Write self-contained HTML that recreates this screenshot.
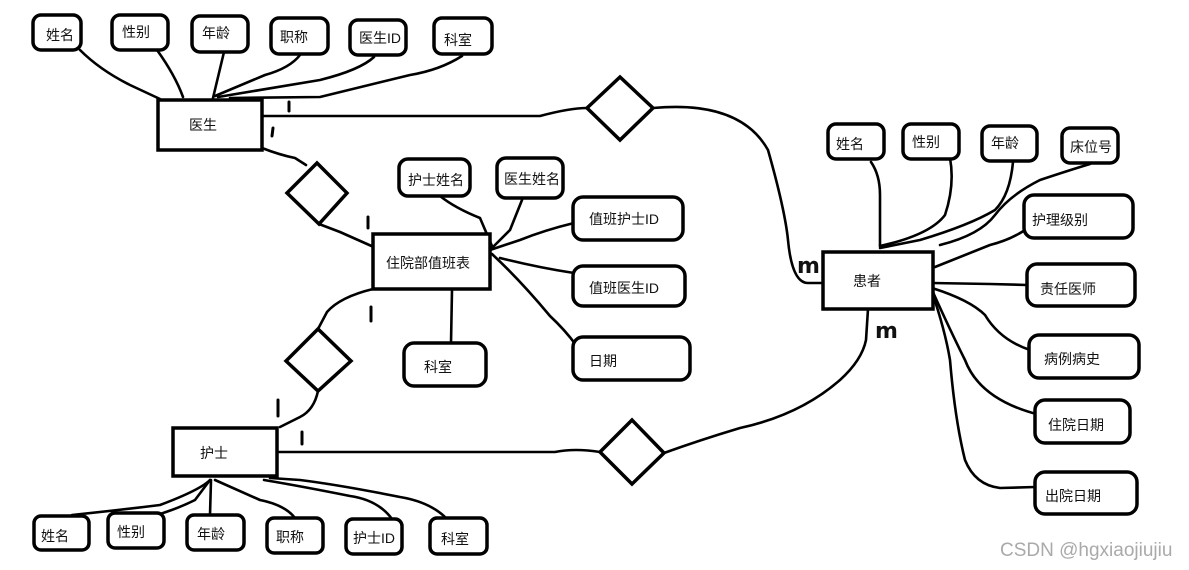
<!DOCTYPE html>
<html><head><meta charset="utf-8"><style>
html,body{margin:0;padding:0;background:#fff;width:1189px;height:570px;overflow:hidden}
svg{display:block}
text{font-family:"Liberation Sans","Noto Sans CJK SC",sans-serif;font-size:14px;fill:#111}
.r{fill:#fff;stroke:#000;stroke-width:3.5}
.b{fill:#fff;stroke:#000;stroke-width:3.5}
.l{fill:none;stroke:#000;stroke-width:2.6;stroke-linecap:round;stroke-linejoin:round}
.m{fill:none;stroke:#000;stroke-width:3;stroke-linecap:round}
</style></head><body>
<svg width="1189" height="570" viewBox="0 0 1189 570" xmlns="http://www.w3.org/2000/svg">
<path class="l" d="M80,50 Q100,70 130,85 L160,99"/>
<path class="l" d="M157,50 Q175,75 183,97"/>
<path class="l" d="M224,52 L213,98"/>
<path class="l" d="M300,55 Q290,68 265,75 L215,96"/>
<path class="l" d="M374,57 Q360,70 320,80 L218,97"/>
<path class="l" d="M462,56 Q440,70 410,75 Q340,92 320,97 L230,98"/>
<path class="l" d="M262,116 L540,116 Q570,108 587,108"/>
<path class="l" d="M653,108 Q740,100 768,150 Q785,210 788,240 Q792,283 808,283 L830,283"/>
<path class="l" d="M262,148 Q280,155 295,158 L306,165"/>
<path class="l" d="M319,224 L340,232 L376,248"/>
<path class="l" d="M440,196 Q455,208 480,218 L492,246"/>
<path class="l" d="M522,200 L510,230 L490,250"/>
<path class="l" d="M574,223 Q545,230 520,240 L490,250"/>
<path class="l" d="M574,273 Q540,268 500,258"/>
<path class="l" d="M576,345 Q565,330 550,316 Q520,280 492,254"/>
<path class="l" d="M452,290 L451,343"/>
<path class="l" d="M373,289 Q340,297 327,312 L318,329"/>
<path class="l" d="M318,391 Q314,410 300,417 L280,427"/>
<path class="l" d="M277,452 L555,452 Q575,448 600,452"/>
<path class="l" d="M664,453 Q700,440 740,428 Q800,415 840,380 Q862,360 866,340 L868,309"/>
<path class="l" d="M72,515 Q120,510 160,505 Q200,490 210,480"/>
<path class="l" d="M150,517 Q175,510 195,500 L210,480"/>
<path class="l" d="M211,480 L210,515"/>
<path class="l" d="M295,518 Q285,505 260,500 L215,480"/>
<path class="l" d="M392,519 Q378,500 350,496 Q300,486 264,480"/>
<path class="l" d="M446,518 Q430,502 400,497 Q340,485 300,480 L270,478"/>
<path class="l" d="M871,162 Q880,175 880,195 L880,246"/>
<path class="l" d="M950,158 Q955,185 945,215 Q930,235 880,246"/>
<path class="l" d="M1013,162 Q1010,195 995,210 Q970,225 920,240 L880,248"/>
<path class="l" d="M1090,164 Q1070,170 1040,180 Q1010,195 995,215 Q980,235 940,245"/>
<path class="l" d="M1025,230 Q1010,240 990,245 L935,267"/>
<path class="l" d="M932,283 L990,284 L1027,285"/>
<path class="l" d="M932,288 Q970,300 985,315 Q1000,340 1030,350"/>
<path class="l" d="M932,290 Q950,330 965,360 Q980,400 1040,415"/>
<path class="l" d="M932,292 Q945,330 950,360 Q955,420 965,460 Q975,485 1000,488 L1035,487"/>
<rect class="b" x="158" y="100" width="104" height="50"/>
<text x="189" y="130">医生</text>
<rect class="b" x="373" y="234" width="117" height="55"/>
<text x="386" y="268">住院部值班表</text>
<rect class="b" x="173" y="428" width="104" height="48"/>
<text x="200" y="458">护士</text>
<rect class="b" x="823" y="252" width="110" height="57"/>
<text x="853" y="286">患者</text>
<polygon class="b" points="587,108 620,77 653,108 620,140"/>
<polygon class="b" points="287,193 317,163 347,193 319,224"/>
<polygon class="b" points="286,361 318,329 351,361 318,391"/>
<polygon class="b" points="600,452 632,420 664,453 632,484"/>
<rect class="r" x="33" y="15" width="48" height="35" rx="8"/><text x="46" y="40">姓名</text>
<rect class="r" x="112" y="15" width="56" height="35" rx="8"/><text x="122" y="37">性别</text>
<rect class="r" x="192" y="16" width="56" height="36" rx="8"/><text x="202" y="38">年龄</text>
<rect class="r" x="271" y="18" width="57" height="36" rx="8"/><text x="280" y="42">职称</text>
<rect class="r" x="350" y="20" width="56" height="35" rx="8"/><text x="359" y="43">医生ID</text>
<rect class="r" x="434" y="18" width="58" height="36" rx="8"/><text x="444" y="45">科室</text>
<rect class="r" x="399" y="159" width="71" height="37" rx="9"/><text x="408" y="185">护士姓名</text>
<rect class="r" x="497" y="158" width="66" height="40" rx="9"/><text x="504" y="184">医生姓名</text>
<rect class="r" x="573" y="197" width="110" height="43" rx="10"/><text x="589" y="224">值班护士ID</text>
<rect class="r" x="573" y="266" width="112" height="40" rx="10"/><text x="589" y="293">值班医生ID</text>
<rect class="r" x="573" y="337" width="117" height="43" rx="10"/><text x="589" y="366">日期</text>
<rect class="r" x="404" y="343" width="82" height="43" rx="10"/><text x="424" y="372">科室</text>
<rect class="r" x="34" y="516" width="55" height="34" rx="7"/><text x="41" y="541">姓名</text>
<rect class="r" x="108" y="513" width="56" height="35" rx="7"/><text x="117" y="537">性别</text>
<rect class="r" x="187" y="515" width="57" height="35" rx="7"/><text x="197" y="539">年龄</text>
<rect class="r" x="267" y="518" width="56" height="35" rx="7"/><text x="276" y="542">职称</text>
<rect class="r" x="346" y="519" width="56" height="35" rx="7"/><text x="353" y="543">护士ID</text>
<rect class="r" x="430" y="518" width="57" height="36" rx="7"/><text x="441" y="544">科室</text>
<rect class="r" x="828" y="124" width="56" height="35" rx="8"/><text x="836" y="149">姓名</text>
<rect class="r" x="903" y="124" width="56" height="35" rx="8"/><text x="912" y="147">性别</text>
<rect class="r" x="982" y="126" width="55" height="35" rx="8"/><text x="991" y="148">年龄</text>
<rect class="r" x="1062" y="128" width="56" height="35" rx="8"/><text x="1070" y="152">床位号</text>
<rect class="r" x="1024" y="195" width="109" height="43" rx="10"/><text x="1032" y="225">护理级别</text>
<rect class="r" x="1027" y="264" width="108" height="42" rx="10"/><text x="1040" y="294">责任医师</text>
<rect class="r" x="1029" y="335" width="110" height="43" rx="10"/><text x="1044" y="364">病例病史</text>
<rect class="r" x="1035" y="400" width="95" height="43" rx="10"/><text x="1048" y="430">住院日期</text>
<rect class="r" x="1035" y="472" width="102" height="42" rx="10"/><text x="1045" y="501">出院日期</text>
<path class="m" d="M289,102 L289,111"/>
<path class="m" d="M273,128 L272,136"/>
<path class="m" d="M368,217 L368,228"/>
<path class="m" d="M371,307 L371,321"/>
<path class="m" d="M278,400 L278,416"/>
<path class="m" d="M302,432 L302,444"/>
<text x="797" y="273" style="font-size:22px;font-weight:bold;font-family:'DejaVu Sans',sans-serif">m</text>
<text x="875" y="338" style="font-size:22px;font-weight:bold;font-family:'DejaVu Sans',sans-serif">m</text>
<text x="1000" y="556" style="font-size:19px;fill:#aaaaaa">CSDN @hgxiaojiujiu</text>
</svg>
</body></html>
